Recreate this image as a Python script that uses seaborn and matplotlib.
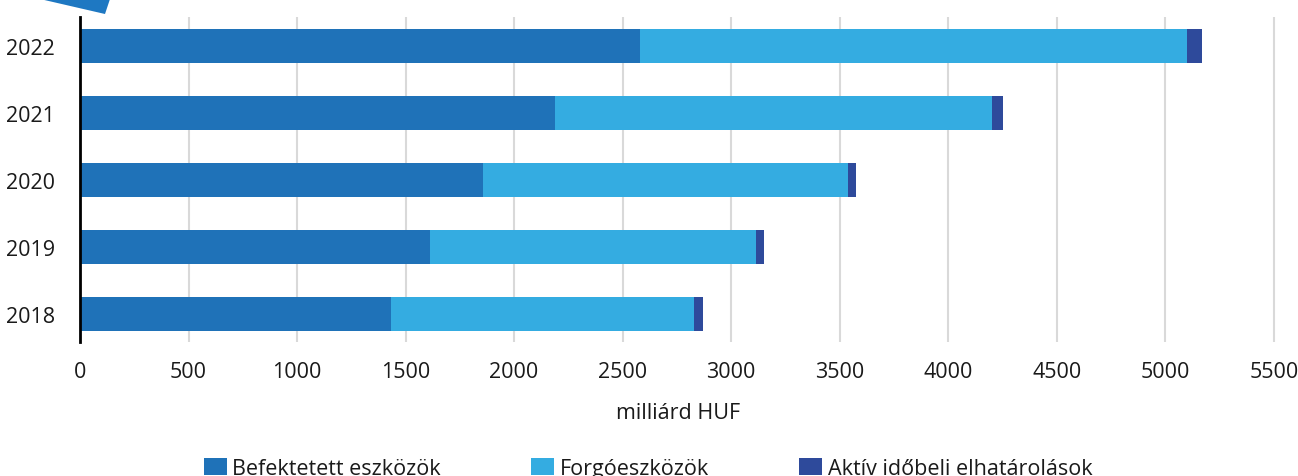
import pandas as pd
import matplotlib.pyplot as plt
import seaborn as sns
from matplotlib.patches import Polygon, Patch

years = ["2022", "2021", "2020", "2019", "2018"]
befektetett = [2580, 2188, 1856, 1612, 1435]
forgo = [2522, 2012, 1680, 1501, 1393]
aktiv = [68, 53, 40, 40, 40]

labels = ["Befektetett eszközök", "Forgóeszközök", "Aktív időbeli elhatárolások"]
colors = ["#1F72B8", "#34ACE1", "#2E4A9B"]

df = pd.DataFrame({"year": years, "bef": befektetett, "forgo": forgo, "aktiv": aktiv})
df["s1"] = df["bef"]
df["s2"] = df["bef"] + df["forgo"]
df["s3"] = df["s2"] + df["aktiv"]

sns.set_style("white")
plt.rcParams["font.family"] = ["Open Sans", "DejaVu Sans"]
fs = 15.5

fig = plt.figure(figsize=(12.98, 4.77), dpi=100)
ax = fig.add_axes([80 / 1298, 1 - 343 / 477, (1276 - 80) / 1298, (343 - 18) / 477])

# stacked bars drawn as cumulative totals, largest first
for col, c in zip(["s3", "s2", "s1"], colors[::-1]):
    sns.barplot(data=df, x=col, y="year", order=years, color=c, width=0.5,
                linewidth=0, saturation=1, ax=ax)

ax.set_xlim(0, 5510)
ax.set_ylim(4.42, -0.43)
ax.set_xticks(range(0, 5501, 500))
ax.xaxis.grid(True, color="#d9d9d9", linewidth=1.5)
ax.set_axisbelow(True)
for s in ["top", "right", "bottom"]:
    ax.spines[s].set_visible(False)
ax.spines["left"].set_color("black")
ax.spines["left"].set_linewidth(2)
ax.tick_params(axis="both", length=0, labelsize=fs, colors="#1a1a1a")
ax.tick_params(axis="y", pad=18)
ax.tick_params(axis="x", pad=14)
ax.set_ylabel("")
ax.set_xlabel("milliárd HUF", fontsize=fs, color="#1a1a1a", labelpad=14)

handles = [Patch(facecolor=c, edgecolor="none") for c in colors]
fig.legend(handles, labels, loc="center", ncol=3, bbox_to_anchor=(648 / 1298, 0.016),
           frameon=False, fontsize=fs, handlelength=1.07, handleheight=0.8,
           handletextpad=0.25, columnspacing=4.2, labelcolor="#1a1a1a")

# corner decoration
fig.patches.append(Polygon([(40 / 1298, 1.0), (110 / 1298, 1.0), (105 / 1298, 1 - 15 / 477)],
                           closed=True, transform=fig.transFigure, facecolor="#1E78C2",
                           edgecolor="none"))

fig.savefig("out.png", dpi=100)
